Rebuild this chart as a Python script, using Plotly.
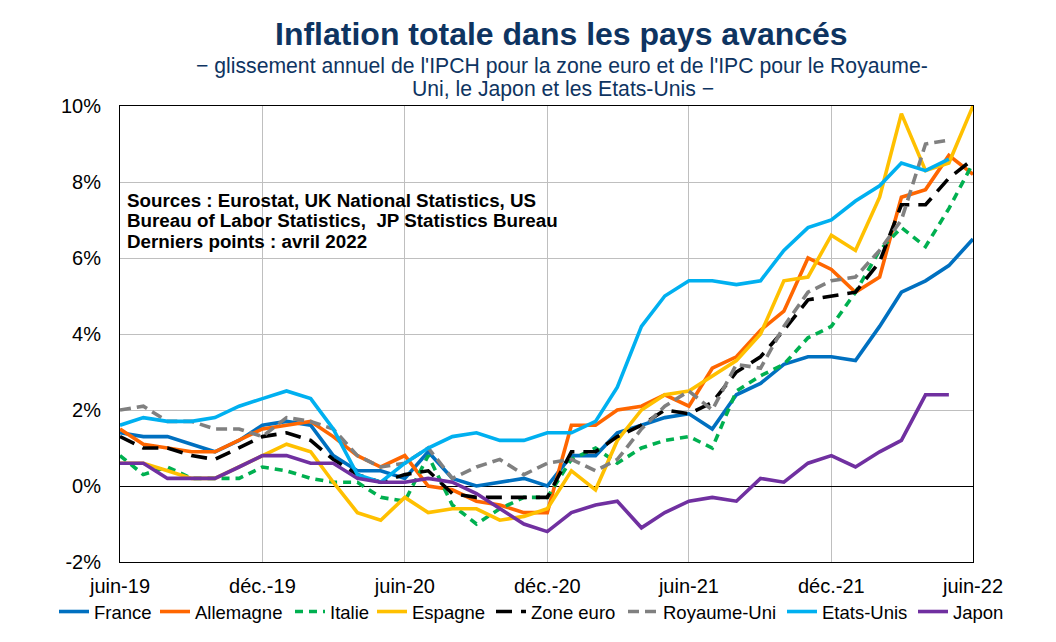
import pandas as pd
import plotly.graph_objects as go

months = pd.date_range("2019-06-01", periods=37, freq="MS")

france = [1.4, 1.3, 1.3, 1.1, 0.9, 1.2, 1.6, 1.7, 1.6, 0.8, 0.4, 0.4, 0.2, 0.9, 0.2, 0.0, 0.1, 0.2, 0.0,
          0.8, 0.8, 1.4, 1.6, 1.8, 1.9, 1.5, 2.4, 2.7, 3.2, 3.4, 3.4, 3.3, 4.2, 5.1, 5.4, 5.8, 6.5]
allemagne = [1.5, 1.1, 1.0, 0.9, 0.9, 1.2, 1.5, 1.6, 1.7, 1.3, 0.8, 0.5, 0.8, 0.0, -0.1, -0.4, -0.5, -0.7, -0.7,
             1.6, 1.6, 2.0, 2.1, 2.4, 2.1, 3.1, 3.4, 4.1, 4.6, 6.0, 5.7, 5.1, 5.5, 7.6, 7.8, 8.7, 8.2]
italie = [0.8, 0.3, 0.5, 0.2, 0.2, 0.2, 0.5, 0.4, 0.2, 0.1, 0.1, -0.3, -0.4, 0.8, -0.5, -1.0, -0.6, -0.3, -0.3,
          0.7, 1.0, 0.6, 1.0, 1.2, 1.3, 1.0, 2.5, 2.9, 3.2, 3.9, 4.2, 5.1, 6.2, 6.8, 6.3, 7.3, 8.5]
espagne = [0.6, 0.6, 0.4, 0.2, 0.2, 0.5, 0.8, 1.1, 0.9, 0.1, -0.7, -0.9, -0.3, -0.7, -0.6, -0.6, -0.9, -0.8, -0.6,
           0.4, -0.1, 1.2, 2.0, 2.4, 2.5, 2.9, 3.3, 4.0, 5.4, 5.5, 6.6, 6.2, 7.6, 9.8, 8.3, 8.5, 10.0]
zone_euro = [1.3, 1.0, 1.0, 0.8, 0.7, 1.0, 1.3, 1.4, 1.2, 0.7, 0.3, 0.1, 0.3, 0.4, -0.2, -0.3, -0.3, -0.3, -0.3,
             0.9, 0.9, 1.3, 1.6, 2.0, 1.9, 2.2, 3.0, 3.4, 4.1, 4.9, 5.0, 5.1, 5.9, 7.4, 7.4, 8.1, 8.6]
royaume_uni = [2.0, 2.1, 1.7, 1.7, 1.5, 1.5, 1.3, 1.8, 1.7, 1.5, 0.8, 0.5, 0.6, 1.0, 0.2, 0.5, 0.7, 0.3, 0.6,
               0.7, 0.4, 0.7, 1.5, 2.1, 2.5, 2.0, 3.2, 3.1, 4.2, 5.1, 5.4, 5.5, 6.2, 7.0, 9.0, 9.1]
etats_unis = [1.6, 1.8, 1.7, 1.7, 1.8, 2.1, 2.3, 2.5, 2.3, 1.5, 0.3, 0.1, 0.6, 1.0, 1.3, 1.4, 1.2, 1.2, 1.4,
              1.4, 1.7, 2.6, 4.2, 5.0, 5.4, 5.4, 5.3, 5.4, 6.2, 6.8, 7.0, 7.5, 7.9, 8.5, 8.3, 8.6]
japon = [0.6, 0.6, 0.2, 0.2, 0.2, 0.5, 0.8, 0.8, 0.6, 0.6, 0.2, 0.1, 0.1, 0.2, 0.1, -0.2, -0.6, -1.0, -1.2,
         -0.7, -0.5, -0.4, -1.1, -0.7, -0.4, -0.3, -0.4, 0.2, 0.1, 0.6, 0.8, 0.5, 0.9, 1.2, 2.4, 2.4]

x_tick_dates = ["2019-06-01", "2019-12-01", "2020-06-01", "2020-12-01", "2021-06-01", "2021-12-01", "2022-06-01"]
x_tick_labels = ["juin-19", "déc.-19", "juin-20", "déc.-20", "juin-21", "déc.-21", "juin-22"]
y_tick_vals = [-2, 0, 2, 4, 6, 8, 10]
y_tick_labels = ["-2%", "0%", "2%", "4%", "6%", "8%", "10%"]

series = [
    ("France", france, "#0070C0", "solid"),
    ("Allemagne", allemagne, "#FF6600", "solid"),
    ("Italie", italie, "#00B050", "8px,6px"),
    ("Espagne", espagne, "#FFC000", "solid"),
    ("Zone euro", zone_euro, "#000000", "16px,9px"),
    ("Royaume-Uni", royaume_uni, "#808080", "11px,6px"),
    ("Etats-Unis", etats_unis, "#00B0F0", "solid"),
    ("Japon", japon, "#7030A0", "solid"),
]
# screen x where each legend label text starts
legend_text_x = [94, 195, 330, 412, 531, 663, 822, 953]

FONT = "Arial, 'Liberation Sans', sans-serif"
NAVY = "#0E3461"

# page body has an 8px margin: work in screen pixels, convert to figure pixels
OFF = 8
W, H = 1056 - OFF, 642 - OFF
PL, PR, PT, PB = 120, 973, 106, 562          # plot box in screen pixels
L, R, T, B = PL - OFF, W - (PR - OFF), PT - OFF, H - (PB - OFF)
pw, ph = W - L - R, H - T - B


def px(xs):
    return (xs - PL) / pw


def py(ys):
    return (PB - ys) / ph


fig = go.Figure()
legends = {}
for k, (name, vals, color, dash) in enumerate(series):
    lname = "legend" if k == 0 else f"legend{k + 1}"
    fig.add_trace(go.Scatter(
        x=months[:len(vals)], y=vals, name=name, mode="lines",
        line=dict(color=color, width=3.6, dash=dash), legend=lname,
    ))
    legends[lname] = dict(
        orientation="h", xref="container", yref="container",
        x=(legend_text_x[k] - 40 - OFF) / W, xanchor="left",
        y=1 - (612 - OFF) / H, yanchor="middle",
        font=dict(size=18.5, family=FONT), itemwidth=30,
        bgcolor="rgba(0,0,0,0)", borderwidth=0,
    )

fig.update_layout(
    width=W, height=H,
    margin=dict(l=L, r=R, t=T, b=B, pad=0, autoexpand=False),
    paper_bgcolor="white", plot_bgcolor="white",
    font=dict(family=FONT, color="black", size=20),
    showlegend=True,
    **legends,
)

fig.update_xaxes(
    type="date", range=["2019-06-01", "2022-06-01"],
    tickvals=x_tick_dates, ticktext=x_tick_labels,
    showgrid=True, gridcolor="#BFBFBF", gridwidth=1,
    showline=True, mirror=True, linecolor="black", linewidth=1,
    ticks="outside", ticklen=6, tickcolor="rgba(0,0,0,0)",
    tickfont=dict(size=20, family=FONT), zeroline=False, automargin=False,
)
fig.update_yaxes(
    range=[-2, 10], tickvals=y_tick_vals, ticktext=y_tick_labels,
    showgrid=True, gridcolor="#BFBFBF", gridwidth=1,
    showline=True, mirror=True, linecolor="black", linewidth=1,
    zeroline=True, zerolinecolor="black", zerolinewidth=1,
    ticks="outside", ticklen=14, tickcolor="rgba(0,0,0,0)",
    tickfont=dict(size=20, family=FONT), automargin=False,
)

annotations = [
    dict(text="<b>Inflation totale dans les pays avancés</b>", x=px(561.5), y=py(34),
         font=dict(size=32, color=NAVY, family=FONT), xanchor="center", yanchor="middle"),
    dict(text="− glissement annuel de l'IPCH pour la zone euro et de l'IPC pour le Royaume-",
         x=px(562), y=py(66), font=dict(size=21.2, color=NAVY, family=FONT),
         xanchor="center", yanchor="middle"),
    dict(text="Uni, le Japon et les Etats-Unis −",
         x=px(563), y=py(89), font=dict(size=21.2, color=NAVY, family=FONT),
         xanchor="center", yanchor="middle"),
    dict(text="<b>Sources : Eurostat, UK National Statistics, US</b>", x=px(125), y=py(200),
         font=dict(size=18.8, color="black", family=FONT), xanchor="left", yanchor="middle"),
    dict(text="<b>Bureau of Labor Statistics,  JP Statistics Bureau</b>", x=px(125), y=py(221),
         font=dict(size=18.8, color="black", family=FONT), xanchor="left", yanchor="middle"),
    dict(text="<b>Derniers points : avril 2022</b>", x=px(125), y=py(241),
         font=dict(size=18.8, color="black", family=FONT), xanchor="left", yanchor="middle"),
]
for a in annotations:
    fig.add_annotation(xref="paper", yref="paper", showarrow=False, **a)

fig.write_html("out.html")
